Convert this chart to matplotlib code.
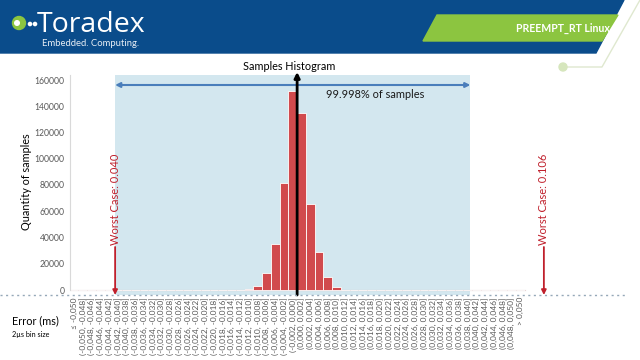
import matplotlib
matplotlib.use("Agg")
import matplotlib.pyplot as plt
from matplotlib.patches import Polygon, Ellipse
from matplotlib.lines import Line2D
import numpy as np

plt.rcParams['font.family'] = ['Lato', 'DejaVu Sans']

# bin edges in microseconds (2 us bins), labels use comma decimals
edges_us = list(range(-50, 52, 2))
counts = [0] * 20 + [600, 2800, 12700, 34800, 81300, 151500, 134500,
                     65800, 28700, 9700, 2000, 150] + [0] * 20
y_ticks = [0, 20000, 40000, 60000, 80000, 100000, 120000, 140000, 160000]


def fmt(us):
    return f"{us / 1000:.3f}".replace('.', ',')


labels = ["\u2264 " + fmt(edges_us[0])]
labels += [f"({fmt(a)}, {fmt(b)}]" for a, b in zip(edges_us[:-1], edges_us[1:])]
labels += ["> " + fmt(edges_us[-1])]

W, H = 640, 360
fig = plt.figure(figsize=(6.4, 3.6), dpi=100)


def fx(x):
    return x / W


def fy(y):
    return 1 - y / H


def dot(x, y, r, color, z=2):
    # round dot given in pixel units
    fig.patches.append(Ellipse((fx(x), fy(y)), 2 * r / W, 2 * r / H,
                               transform=fig.transFigure, color=color, zorder=z))


# ---- slide header ----
blue = '#0a4c8b'
green = '#8cc540'
fig.patches.append(Polygon([(fx(0), fy(0)), (fx(624), fy(0)), (fx(596), fy(53)), (fx(0), fy(53))],
                           closed=True, transform=fig.transFigure, color=blue, zorder=0))
fig.patches.append(Polygon([(fx(437), fy(15)), (fx(618), fy(15)), (fx(602), fy(41)), (fx(423), fy(41))],
                           closed=True, transform=fig.transFigure, color=green, zorder=1))
fig.text(fx(563), fy(28), "PREEMPT_RT Linux", color='white', fontsize=7.6, fontweight='bold',
         ha='center', va='center')
# decorative thin line with dot
fig.add_artist(Line2D([fx(563), fx(602), fx(640)], [fy(67), fy(67), fy(0)],
                      transform=fig.transFigure, color='#dfe8cf', lw=1))
dot(563, 67, 4, '#d6e6bd')
# logo
dot(19, 23, 6.5, green)
dot(17, 23, 2.3, 'white', 3)
dot(30, 24, 1.6, 'white', 3)
dot(35, 24, 1.6, 'white', 3)
fig.text(fx(37), fy(32), "Toradex", color='white', fontsize=20.5, family='Open Sans',
         ha='left', va='baseline')
fig.text(fx(42), fy(43), "Embedded. Computing.", color='#e8eef5', fontsize=6.8,
         ha='left', va='center')

# ---- chart ----
# axes spans pixels x 70..640, y 75..295 ; category 0 at x=74, 8.75 px per bin
ax = fig.add_axes([fx(70), fy(295), fx(570), 220 / H])
y_per_px = 160000 / 210
ax.set_xlim(-4 / 8.75, 566 / 8.75)
ax.set_ylim(-5 * y_per_px, 160000 + 5 * y_per_px)

idx = np.arange(len(counts))
ax.axvspan(4.7, 45.3, color='#d3e7ef', zorder=0, lw=0)
ax.bar(idx, counts, width=1.0, color='#d14a4d', edgecolor='white', linewidth=0.6, zorder=2)
ax.plot([-0.5, len(counts) - 0.5], [0, 0], color='#d8b8b8', lw=0.8, zorder=1)

for s in ['top', 'right', 'bottom']:
    ax.spines[s].set_visible(False)
ax.spines['left'].set_color('#d9d9d9')
ax.spines['left'].set_bounds(0, 160000 + 5 * y_per_px)

ax.set_yticks(y_ticks)
ax.set_yticklabels([str(v) for v in y_ticks], fontsize=6.2, color='#595959')
ax.tick_params(axis='y', length=0, pad=4)
ax.set_xticks(idx)
ax.set_xticklabels(labels, rotation=90, fontsize=6, color='#595959')
ax.tick_params(axis='x', length=0, pad=1.5)

# 99.998% arrow
y_arrow = (290 - 85) * y_per_px
ax.annotate("", xy=(4.7, y_arrow), xytext=(45.3, y_arrow),
            arrowprops=dict(arrowstyle='<|-|>', color='#4a7ebb', lw=1.5,
                            shrinkA=0, shrinkB=0, mutation_scale=7))
fig.text(fx(326), fy(95), "99.998% of samples", fontsize=7.9, color='#1a1a1a', va='center')

# zero line arrow
ax.annotate("", xy=(25.5, (290 - 72) * y_per_px), xytext=(25.5, -5 * y_per_px),
            arrowprops=dict(arrowstyle='-|>', color='black', lw=2, shrinkA=0, shrinkB=0,
                            mutation_scale=8), annotation_clip=False, zorder=4)
fig.text(fx(289), fy(66), "Samples Histogram", fontsize=7.8, color='black',
         ha='center', va='center')

# worst-case markers
red = '#c0202c'
for xpos, txt in [(4.7, "Worst Case: 0.040"), (53.7, "Worst Case: 0.106")]:
    ax.annotate("", xy=(xpos, -5 * y_per_px), xytext=(xpos, (290 - 247) * y_per_px),
                arrowprops=dict(arrowstyle='-|>', color=red, lw=1.3, shrinkA=0, shrinkB=0,
                                mutation_scale=7), annotation_clip=False, zorder=4)
    ax.text(xpos, (290 - 245) * y_per_px, txt, rotation=90, color=red, fontsize=8,
            ha='center', va='bottom')

# dotted base line across the slide
fig.add_artist(Line2D([fx(0), fx(627)], [fy(295), fy(295)], transform=fig.transFigure,
                      color='#95a8b8', lw=1, linestyle=(0, (1.5, 2.5))))

fig.text(fx(27), fy(182), "Quantity of samples", rotation=90, fontsize=7.8,
         ha='center', va='center')
fig.text(fx(12), fy(321), "Error (ms)", fontsize=7.8, ha='left', va='center')
fig.text(fx(12), fy(334), "2\u00b5s bin size", fontsize=5.2, ha='left', va='center')

fig.savefig("out.png", dpi=100)
